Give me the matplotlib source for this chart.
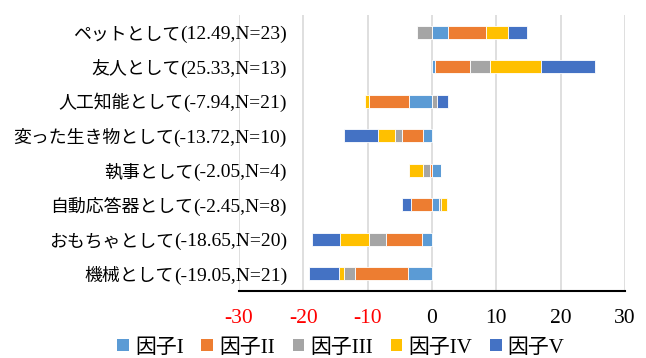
import matplotlib
matplotlib.use("Agg")
import matplotlib.pyplot as plt
import matplotlib.transforms as mtransforms
import numpy as np
from matplotlib.patches import Patch

# Data (top to bottom as displayed)
categories = ["ペットとして(12.49,N=23)", "友人として(25.33,N=13)", "人工知能として(-7.94,N=21)",
              "変った生き物として(-13.72,N=10)", "執事として(-2.05,N=4)", "自動応答器として(-2.45,N=8)",
              "おもちゃとして(-18.65,N=20)", "機械として(-19.05,N=21)"]
series_names = ["因子I", "因子II", "因子III", "因子IV", "因子V"]
factor1 = [2.49, 0.47, -3.58, -1.40, 1.45, 1.09, -1.61, -3.68]
factor2 = [5.90, 5.44, -6.20, -3.32, -0.36, -3.33, -5.59, -8.32]
factor3 = [-2.35, 3.06, 0.78, -1.09, -0.98, 0.31, -2.59, -1.66]
factor4 = [3.45, 8.03, -0.67, -2.54, -2.16, 0.88, -4.56, -0.73]
factor5 = [3.00, 8.34, 1.71, -5.37, 0.00, -1.40, -4.30, -4.66]
xticks = [-30, -20, -10, 0, 10, 20, 30]

colors = ["#5B9BD5", "#ED7D31", "#A5A5A5", "#FFC000", "#4472C4"]
FONT = ["Liberation Serif", "Noto Sans CJK JP"]

W, H = 646, 358
fig = plt.figure(figsize=(W / 100, H / 100), dpi=100)
L, R, T, B = 239, 625, 15, 291
ax = fig.add_axes([L / W, 1 - B / H, (R - L) / W, (B - T) / H])

n = len(categories)
ypos = np.arange(n)[::-1]
pos_cum = np.zeros(n)
neg_cum = np.zeros(n)
for name, vals, col in zip(series_names, [factor1, factor2, factor3, factor4, factor5], colors):
    v = np.array(vals)
    left = np.where(v >= 0, pos_cum, neg_cum)
    ax.barh(ypos, v, left=left, height=0.39, color=col, edgecolor="white", linewidth=0.6, zorder=3)
    pos_cum = pos_cum + np.where(v > 0, v, 0)
    neg_cum = neg_cum + np.where(v < 0, v, 0)

ax.set_xlim(-30, 30)
ax.set_ylim(-0.5, n - 0.5)
ax.set_xticks(xticks)
for x in xticks:
    ax.axvline(x, color="#D9D9D9", linewidth=1.2, zorder=1)

ax.set_xticklabels([str(t) for t in xticks])
for lab, t in zip(ax.get_xticklabels(), xticks):
    lab.set_fontfamily(FONT)
    lab.set_fontsize(15.5)
    lab.set_color("#FF0000" if t < 0 else "#000000")
ax.tick_params(axis="x", length=0, pad=13)
ax.set_yticks([])

for s in ["left", "right", "top"]:
    ax.spines[s].set_visible(False)
ax.spines["bottom"].set_color("black")
ax.spines["bottom"].set_linewidth(1.5)
ax.spines["bottom"].set_zorder(4)

xlab = (287 - L) / (R - L)
base_tr = ax.get_yaxis_transform() + mtransforms.ScaledTranslation(0, -5 / 72, fig.dpi_scale_trans)
for y, c in zip(ypos, categories):
    i = c.index("(")
    jp, latin = c[:i], c[i:]
    t_lat = ax.text(xlab, y, latin, transform=base_tr, ha="right", va="baseline",
                    fontsize=14, family=FONT, color="#000000", zorder=5)
    ax.annotate(jp, xy=(0, y), xycoords=(t_lat, base_tr), ha="right", va="baseline",
                fontsize=12.9, family=["Noto Sans CJK JP"], color="#000000", zorder=5,
                annotation_clip=False)

handles = [Patch(facecolor=c, edgecolor="none") for c in colors]
fig.legend(handles, series_names, loc="center", bbox_to_anchor=(341 / W, 1 - 348 / H),
           ncol=5, frameon=False, prop={"family": FONT, "size": 15},
           handlelength=0.55, handleheight=0.55, handletextpad=0.3, columnspacing=0.85,
           borderpad=0)

fig.savefig("out.png", dpi=100)
